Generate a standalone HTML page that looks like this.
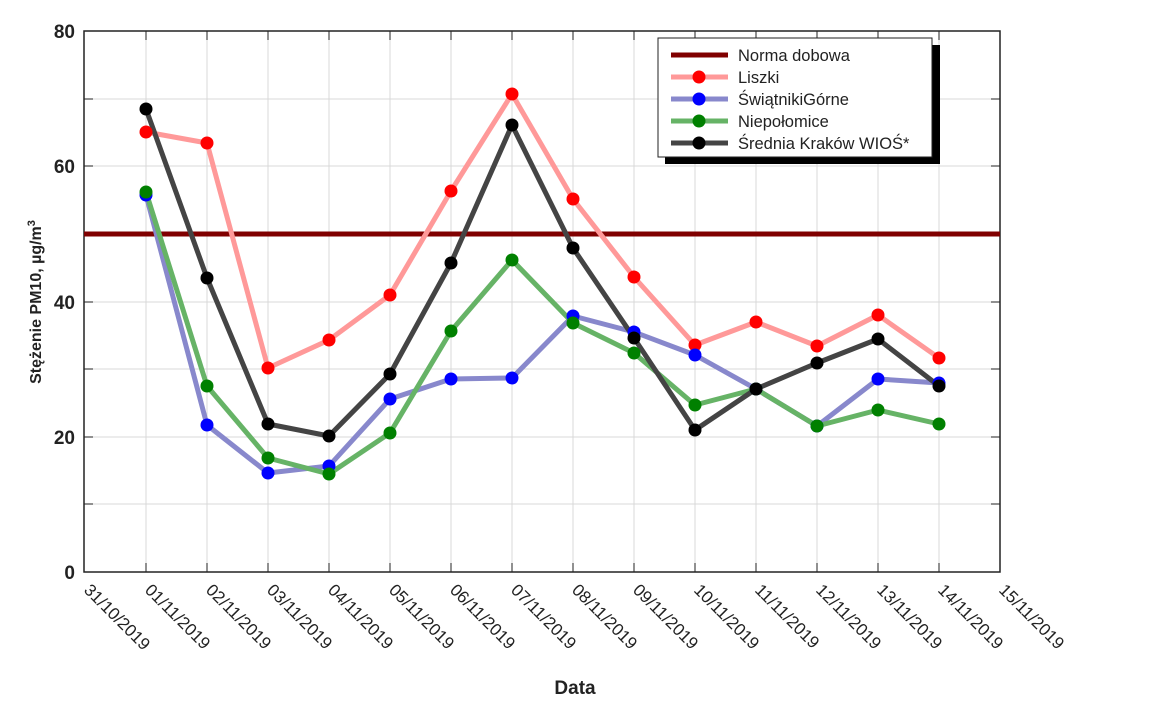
<!DOCTYPE html>
<html><head><meta charset="utf-8"><style>body{margin:0;background:#fff}svg{display:block}text{font-family:"Liberation Sans",sans-serif;fill:#222}</style></head><body>
<svg width="1150" height="719" viewBox="0 0 1150 719">
<g stroke="#d9d9d9" stroke-width="1">
<line x1="146" y1="31" x2="146" y2="572"/><line x1="207" y1="31" x2="207" y2="572"/><line x1="268" y1="31" x2="268" y2="572"/><line x1="329" y1="31" x2="329" y2="572"/><line x1="390" y1="31" x2="390" y2="572"/><line x1="451" y1="31" x2="451" y2="572"/><line x1="512" y1="31" x2="512" y2="572"/><line x1="573" y1="31" x2="573" y2="572"/><line x1="634" y1="31" x2="634" y2="572"/><line x1="695" y1="31" x2="695" y2="572"/><line x1="756" y1="31" x2="756" y2="572"/><line x1="817" y1="31" x2="817" y2="572"/><line x1="878" y1="31" x2="878" y2="572"/><line x1="939" y1="31" x2="939" y2="572"/>
<line x1="84" y1="99" x2="1000" y2="99"/><line x1="84" y1="166" x2="1000" y2="166"/><line x1="84" y1="234" x2="1000" y2="234"/><line x1="84" y1="302" x2="1000" y2="302"/><line x1="84" y1="369" x2="1000" y2="369"/><line x1="84" y1="437" x2="1000" y2="437"/><line x1="84" y1="504" x2="1000" y2="504"/>
</g>
<g stroke="#222" stroke-width="1">
<path d="M146 572v-9M207 572v-9M268 572v-9M329 572v-9M390 572v-9M451 572v-9M512 572v-9M573 572v-9M634 572v-9M695 572v-9M756 572v-9M817 572v-9M878 572v-9M939 572v-9"/>
<path d="M146 31v9M207 31v9M268 31v9M329 31v9M390 31v9M451 31v9M512 31v9M573 31v9M634 31v9M695 31v9M756 31v9M817 31v9M878 31v9M939 31v9"/>
<path d="M84 99h9M84 166h9M84 234h9M84 302h9M84 369h9M84 437h9M84 504h9M1000 99h-9M1000 166h-9M1000 234h-9M1000 302h-9M1000 369h-9M1000 437h-9M1000 504h-9"/>
</g>
<rect x="84" y="31" width="916" height="541" fill="none" stroke="#222" stroke-width="1.5"/>
<g font-size="19" font-weight="bold" text-anchor="end">
<text x="75" y="38">80</text><text x="75" y="173">60</text><text x="75" y="309">40</text><text x="75" y="444">20</text><text x="75" y="579">0</text>
</g>
<g font-size="17">
<text transform="translate(83,591) rotate(45)">31/10/2019</text>
<text transform="translate(144,591) rotate(45)">01/11/2019</text>
<text transform="translate(205,591) rotate(45)">02/11/2019</text>
<text transform="translate(266,591) rotate(45)">03/11/2019</text>
<text transform="translate(327,591) rotate(45)">04/11/2019</text>
<text transform="translate(388,591) rotate(45)">05/11/2019</text>
<text transform="translate(449,591) rotate(45)">06/11/2019</text>
<text transform="translate(510,591) rotate(45)">07/11/2019</text>
<text transform="translate(571,591) rotate(45)">08/11/2019</text>
<text transform="translate(632,591) rotate(45)">09/11/2019</text>
<text transform="translate(693,591) rotate(45)">10/11/2019</text>
<text transform="translate(754,591) rotate(45)">11/11/2019</text>
<text transform="translate(815,591) rotate(45)">12/11/2019</text>
<text transform="translate(876,591) rotate(45)">13/11/2019</text>
<text transform="translate(937,591) rotate(45)">14/11/2019</text>
<text transform="translate(998,591) rotate(45)">15/11/2019</text>
</g>
<text x="575" y="694" font-size="19" font-weight="bold" text-anchor="middle">Data</text>
<text transform="translate(41,302) rotate(-90)" font-size="16" font-weight="bold" text-anchor="middle">Stężenie PM10, µg/m<tspan font-size="11" dy="-6">3</tspan></text>
<line x1="84" y1="234" x2="1000" y2="234" stroke="#800000" stroke-width="5"/>
<g fill="none" stroke-width="5" stroke-linejoin="round">
<polyline stroke="#ff9999" points="146,132 207,143 268,368 329,340 390,295 451,191 512,94 573,199 634,277 695,345 756,322 817,346 878,315 939,358"/>
<polyline stroke="#8888cc" points="146,195 207,425 268,473 329,466 390,399 451,379 512,378 573,316 634,332 695,355 756,389 817,426 878,379 939,383"/>
<polyline stroke="#66b366" points="146,192 207,386 268,458 329,474 390,433 451,331 512,260 573,323 634,353 695,405 756,389 817,426 878,410 939,424"/>
<polyline stroke="#444" points="146,109 207,278 268,424 329,436 390,374 451,263 512,125 573,248 634,338 695,430 756,389 817,363 878,339 939,386"/>
</g>
<g fill="#ff0000"><circle cx="146" cy="132" r="6.5"/><circle cx="207" cy="143" r="6.5"/><circle cx="268" cy="368" r="6.5"/><circle cx="329" cy="340" r="6.5"/><circle cx="390" cy="295" r="6.5"/><circle cx="451" cy="191" r="6.5"/><circle cx="512" cy="94" r="6.5"/><circle cx="573" cy="199" r="6.5"/><circle cx="634" cy="277" r="6.5"/><circle cx="695" cy="345" r="6.5"/><circle cx="756" cy="322" r="6.5"/><circle cx="817" cy="346" r="6.5"/><circle cx="878" cy="315" r="6.5"/><circle cx="939" cy="358" r="6.5"/></g>
<g fill="#0000ff"><circle cx="146" cy="195" r="6.5"/><circle cx="207" cy="425" r="6.5"/><circle cx="268" cy="473" r="6.5"/><circle cx="329" cy="466" r="6.5"/><circle cx="390" cy="399" r="6.5"/><circle cx="451" cy="379" r="6.5"/><circle cx="512" cy="378" r="6.5"/><circle cx="573" cy="316" r="6.5"/><circle cx="634" cy="332" r="6.5"/><circle cx="695" cy="355" r="6.5"/><circle cx="756" cy="389" r="6.5"/><circle cx="817" cy="426" r="6.5"/><circle cx="878" cy="379" r="6.5"/><circle cx="939" cy="383" r="6.5"/></g>
<g fill="#008000"><circle cx="146" cy="192" r="6.5"/><circle cx="207" cy="386" r="6.5"/><circle cx="268" cy="458" r="6.5"/><circle cx="329" cy="474" r="6.5"/><circle cx="390" cy="433" r="6.5"/><circle cx="451" cy="331" r="6.5"/><circle cx="512" cy="260" r="6.5"/><circle cx="573" cy="323" r="6.5"/><circle cx="634" cy="353" r="6.5"/><circle cx="695" cy="405" r="6.5"/><circle cx="756" cy="389" r="6.5"/><circle cx="817" cy="426" r="6.5"/><circle cx="878" cy="410" r="6.5"/><circle cx="939" cy="424" r="6.5"/></g>
<g fill="#000"><circle cx="146" cy="109" r="6.5"/><circle cx="207" cy="278" r="6.5"/><circle cx="268" cy="424" r="6.5"/><circle cx="329" cy="436" r="6.5"/><circle cx="390" cy="374" r="6.5"/><circle cx="451" cy="263" r="6.5"/><circle cx="512" cy="125" r="6.5"/><circle cx="573" cy="248" r="6.5"/><circle cx="634" cy="338" r="6.5"/><circle cx="695" cy="430" r="6.5"/><circle cx="756" cy="389" r="6.5"/><circle cx="817" cy="363" r="6.5"/><circle cx="878" cy="339" r="6.5"/><circle cx="939" cy="386" r="6.5"/></g>
<rect x="665" y="45" width="275" height="119" fill="#000"/>
<rect x="658" y="38" width="274" height="119" fill="#fff" stroke="#222" stroke-width="1"/>
<g stroke-width="5">
<line x1="671" y1="55" x2="728" y2="55" stroke="#800000"/>
<line x1="671" y1="77" x2="728" y2="77" stroke="#ff9999"/>
<line x1="671" y1="99" x2="728" y2="99" stroke="#8888cc"/>
<line x1="671" y1="121" x2="728" y2="121" stroke="#66b366"/>
<line x1="671" y1="143" x2="728" y2="143" stroke="#444"/>
</g>
<circle cx="699" cy="77" r="6.5" fill="#ff0000"/><circle cx="699" cy="99" r="6.5" fill="#0000ff"/><circle cx="699" cy="121" r="6.5" fill="#008000"/><circle cx="699" cy="143" r="6.5" fill="#000"/>
<g font-size="16.5">
<text x="738" y="61">Norma dobowa</text><text x="738" y="83">Liszki</text><text x="738" y="105">ŚwiątnikiGórne</text><text x="738" y="127">Niepołomice</text><text x="738" y="149">Średnia Kraków WIOŚ*</text>
</g>
</svg>
</body></html>
